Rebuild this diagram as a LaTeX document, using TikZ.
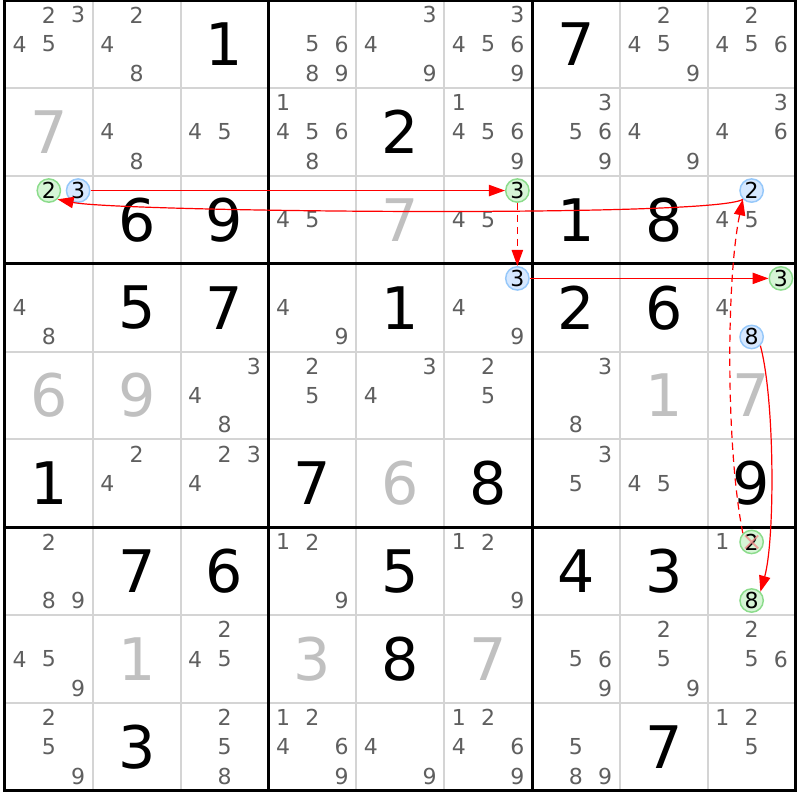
\documentclass[tikz,border=0pt]{standalone}
\usepackage{fontspec}
\setmainfont{DejaVu Sans}
\usetikzlibrary{arrows.meta}
\definecolor{candgray}{HTML}{5F5F5F}
\definecolor{solvgray}{HTML}{C0C0C0}
\definecolor{gridgray}{HTML}{D4D4D4}
\definecolor{gfill}{HTML}{D6F5D6}
\definecolor{gline}{HTML}{8CDC8C}
\definecolor{bfill}{HTML}{D6E8FF}
\definecolor{bline}{HTML}{96C8FA}
\definecolor{xpink}{HTML}{F08C8C}
\def\gridx{4.9}\def\gridy{0.2}\def\csz{87.85}
\newcommand\gdig[3]{\node[givn] (g#1#2) at ({\gridx+(#2-0.5)*\csz},{\gridy+(#1-0.5)*\csz}) {#3};}
\newcommand\sdig[3]{\node[solv] (g#1#2) at ({\gridx+(#2-0.5)*\csz},{\gridy+(#1-0.5)*\csz}) {#3};}
\newcommand\cands[3]{\foreach \d in {#3}{%
  \pgfmathsetmacro\cxx{\gridx+(#2-1)*\csz+(mod(\d-1,3)+0.5)*\csz/3}%
  \pgfmathsetmacro\cyy{\gridy+(#1-1)*\csz+(floor((\d-1)/3)+0.5)*\csz/3}%
  \node[cand] (k#1#2\d) at (\cxx,\cyy) {\d};}}
\newcommand\ccand[4]{%
  \pgfmathsetmacro\cxx{\gridx+(#2-1)*\csz+(mod(#3-1,3)+0.5)*\csz/3}%
  \pgfmathsetmacro\cyy{\gridy+(#1-1)*\csz+(floor((#3-1)/3)+0.5)*\csz/3}%
  \node[#4] (k#1#2#3) at (\cxx,\cyy) {#3};}
\begin{document}
\begin{tikzpicture}[x=0.75pt,y=-0.75pt,
  cand/.style={font=\fontsize{16.5}{16.5}\selectfont, text=candgray, inner sep=0pt},
  givn/.style={font=\fontsize{44}{44}\selectfont, text=black, inner sep=0pt},
  solv/.style={font=\fontsize{44}{44}\selectfont, text=solvgray, inner sep=0pt},
  gcirc/.style={circle, draw=gline, fill=gfill, line width=1.1pt, minimum size=17.5pt, inner sep=0pt, font=\fontsize{16.5}{16.5}\selectfont, text=black},
  bcirc/.style={circle, draw=bline, fill=bfill, line width=1.1pt, minimum size=17.5pt, inner sep=0pt, font=\fontsize{16.5}{16.5}\selectfont, text=black},
  thingrid/.style={draw=gridgray, line width=1.5pt},
  thickgrid/.style={draw=black, line width=2.25pt},
  arr/.style={draw=red, line width=0.9pt, -{Triangle[length=12pt,width=8.5pt]}},
  dsh/.style={arr, dash pattern=on 5.5pt off 3.5pt}]
\useasboundingbox (0,0) rectangle (800,800);
\fill[white] (0,0) rectangle (800,800);
% grid
\foreach \i in {1,2,4,5,7,8}{
  \draw[thingrid] ({\gridx+\i*\csz},\gridy) -- ++(0,{9*\csz});
  \draw[thingrid] (\gridx,{\gridy+\i*\csz}) -- ++({9*\csz},0);
}
\foreach \i in {0,3,6,9}{
  \draw[thickgrid] ({\gridx+\i*\csz},\gridy-1.1) -- ++(0,{9*\csz+2.2});
  \draw[thickgrid] (\gridx-1.1,{\gridy+\i*\csz}) -- ++({9*\csz+2.2},0);
}
% row 1
\cands{1}{1}{2,3,4,5}
\cands{1}{2}{2,4,8}
\gdig{1}{3}{1}
\cands{1}{4}{5,6,8,9}
\cands{1}{5}{3,4,9}
\cands{1}{6}{3,4,5,6,9}
\gdig{1}{7}{7}
\cands{1}{8}{2,4,5,9}
\cands{1}{9}{2,4,5,6}
% row 2
\sdig{2}{1}{7}
\cands{2}{2}{4,8}
\cands{2}{3}{4,5}
\cands{2}{4}{1,4,5,6,8}
\gdig{2}{5}{2}
\cands{2}{6}{1,4,5,6,9}
\cands{2}{7}{3,5,6,9}
\cands{2}{8}{4,9}
\cands{2}{9}{3,4,6}
% row 3
\ccand{3}{1}{2}{gcirc}
\ccand{3}{1}{3}{bcirc}
\gdig{3}{2}{6}
\gdig{3}{3}{9}
\cands{3}{4}{4,5}
\sdig{3}{5}{7}
\ccand{3}{6}{3}{gcirc}
\cands{3}{6}{4,5}
\gdig{3}{7}{1}
\gdig{3}{8}{8}
\ccand{3}{9}{2}{bcirc}
\cands{3}{9}{4,5}
% row 4
\cands{4}{1}{4,8}
\gdig{4}{2}{5}
\gdig{4}{3}{7}
\cands{4}{4}{4,9}
\gdig{4}{5}{1}
\ccand{4}{6}{3}{bcirc}
\cands{4}{6}{4,9}
\gdig{4}{7}{2}
\gdig{4}{8}{6}
\ccand{4}{9}{3}{gcirc}
\cands{4}{9}{4}
\ccand{4}{9}{8}{bcirc}
% row 5
\sdig{5}{1}{6}
\sdig{5}{2}{9}
\cands{5}{3}{3,4,8}
\cands{5}{4}{2,5}
\cands{5}{5}{3,4}
\cands{5}{6}{2,5}
\cands{5}{7}{3,8}
\sdig{5}{8}{1}
\sdig{5}{9}{7}
% row 6
\gdig{6}{1}{1}
\cands{6}{2}{2,4}
\cands{6}{3}{2,3,4}
\gdig{6}{4}{7}
\sdig{6}{5}{6}
\gdig{6}{6}{8}
\cands{6}{7}{3,5}
\cands{6}{8}{4,5}
\gdig{6}{9}{9}
% row 7
\cands{7}{1}{2,8,9}
\gdig{7}{2}{7}
\gdig{7}{3}{6}
\cands{7}{4}{1,2,9}
\gdig{7}{5}{5}
\cands{7}{6}{1,2,9}
\gdig{7}{7}{4}
\gdig{7}{8}{3}
\cands{7}{9}{1}
\ccand{7}{9}{2}{gcirc}
\ccand{7}{9}{8}{gcirc}
% row 8
\cands{8}{1}{4,5,9}
\sdig{8}{2}{1}
\cands{8}{3}{2,4,5}
\sdig{8}{4}{3}
\gdig{8}{5}{8}
\sdig{8}{6}{7}
\cands{8}{7}{5,6,9}
\cands{8}{8}{2,5,9}
\cands{8}{9}{2,5,6}
% row 9
\cands{9}{1}{2,5,9}
\gdig{9}{2}{3}
\cands{9}{3}{2,5,8}
\cands{9}{4}{1,2,4,6,9}
\cands{9}{5}{4,9}
\cands{9}{6}{1,2,4,6,9}
\cands{9}{7}{5,8,9}
\gdig{9}{8}{7}
\cands{9}{9}{1,2,5}
% cross on eliminated candidate
\draw[xpink, line width=1.4pt, opacity=0.8] ([shift={(-6.5,-6.5)}]k792.center) -- ([shift={(6.5,6.5)}]k792.center)
  ([shift={(-6.5,6.5)}]k792.center) -- ([shift={(6.5,-6.5)}]k792.center);
% chain
\draw[arr] (k313) -- (k363);
\draw[dsh] (k363) -- (k463);
\draw[arr] (k463) -- (k493);
\draw[arr] (k498.-45) .. controls (775,400) and (775,540) .. (k798.45);
\draw[dsh] (k792.135) .. controls (726,450) and (726,280) .. (k392.-135);
\draw[arr] (k392.-135) .. controls (715,218) and (120,212) .. (k312.-45);
\end{tikzpicture}
\end{document}
